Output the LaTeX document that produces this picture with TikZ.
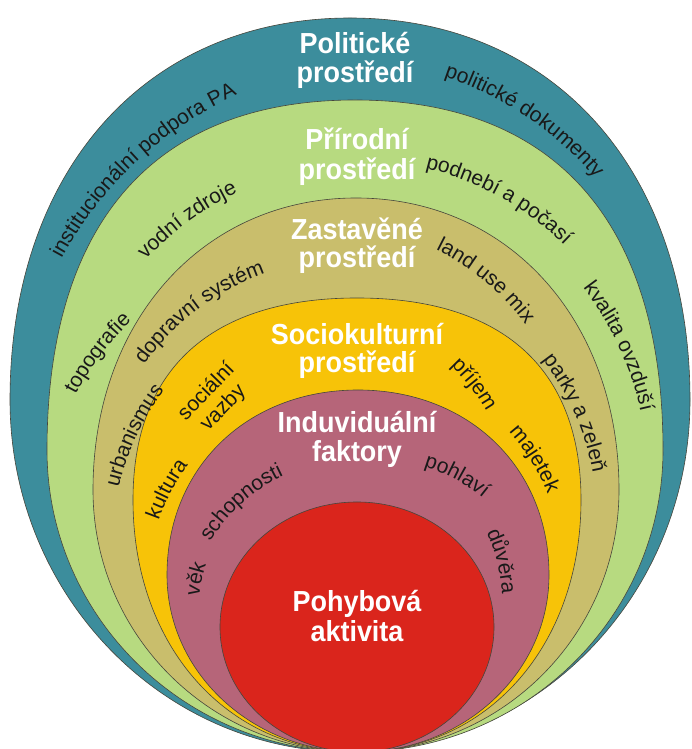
\documentclass[tikz,border=0pt]{standalone}
\usepackage{fontspec}
\setmainfont{Liberation Sans}
\newfontfamily\titlefamily[FakeStretch=0.93]{Liberation Sans}
\newfontfamily\lblfamily{Liberation Sans}
\usetikzlibrary{decorations.text,calc}
\definecolor{cteal}{RGB}{60,141,156}
\definecolor{cgreen}{RGB}{183,218,128}
\definecolor{colive}{RGB}{201,190,108}
\definecolor{cyellow}{RGB}{247,195,8}
\definecolor{cpink}{RGB}{182,101,121}
\definecolor{cred}{RGB}{218,37,28}
\definecolor{edgecol}{RGB}{70,70,60}
\newcommand\lbl{\lblfamily\fontsize{21}{21}\selectfont\color{black!90}}
\tikzset{
  layer/.style={draw=edgecol, line width=0.6pt},
  ttl/.style={text=white, font=\titlefamily\bfseries\fontsize{29}{29}\selectfont, anchor=base, inner sep=0pt}
}
% egg-shaped layer: color, cx, cy (pixels from top), rx, ry top, ry bottom, top factor, bottom factor
\newcommand\egg[8]{%
 \pgfmathsetmacro\eY{749-#3}%
 \pgfmathsetmacro\eT{\eY+#5}\pgfmathsetmacro\eB{\eY-#6}%
 \pgfmathsetmacro\eL{#2-#4}\pgfmathsetmacro\eR{#2+#4}%
 \pgfmathsetmacro\cu{\eY+#7*#5}\pgfmathsetmacro\cd{\eY-#8*#6}%
 \pgfmathsetmacro\ctl{#2-#7*#4}\pgfmathsetmacro\ctr{#2+#7*#4}%
 \pgfmathsetmacro\cbl{#2-#8*#4}\pgfmathsetmacro\cbr{#2+#8*#4}%
 \path[layer,fill=#1] (\eL,\eY) .. controls (\eL,\cu) and (\ctl,\eT) .. (#2,\eT)
   .. controls (\ctr,\eT) and (\eR,\cu) .. (\eR,\eY)
   .. controls (\eR,\cd) and (\cbr,\eB) .. (#2,\eB)
   .. controls (\cbl,\eB) and (\eL,\cd) .. cycle;}
% curved label: x, y (pixels from top, visual centre), tangent angle, radius, text
\newcommand\arclbl[5]{%
 \pgfmathsetmacro\Dl{14000/#4}%
 \path[decorate,decoration={text along path,text align=center,text={|\lbl|#5}}]
   ($(#1,749-#2)+(#3-90:#4+6)+(#3+90+\Dl:#4)$)
   arc[start angle=#3+90+\Dl, end angle=#3+90-\Dl, radius=#4];}
\begin{document}
\begin{tikzpicture}[x=1pt,y=1pt]
\useasboundingbox (0,0) rectangle (692,749);
\fill[white] (0,0) rectangle (692,749);
% layers
\egg{cteal}{350}{400}{340}{382}{352}{0.60}{0.5523}
\egg{cgreen}{355}{450}{308}{350}{302}{0.65}{0.5523}
\egg{colive}{356}{490}{263}{292}{262}{0.58}{0.5523}
\egg{cyellow}{357}{500}{224}{202}{252}{0.65}{0.58}
\egg{cpink}{358}{575}{191}{185}{177}{0.58}{0.5523}
\egg{cred}{357}{627}{137}{125}{125}{0.5523}{0.5523}
% titles
\node[ttl] (t1a) at (355,749-54) {Politické};
\node[ttl] (t1b) at (355,749-83) {prostředí};
\node[ttl] (t2a) at (357,749-150) {Přírodní};
\node[ttl] (t2b) at (357,749-180) {prostředí};
\node[ttl] (t3a) at (357,749-240) {Zastavěné};
\node[ttl] (t3b) at (357,749-268) {prostředí};
\node[ttl] (t4a) at (357,749-345) {Sociokulturní};
\node[ttl] (t4b) at (357,749-373) {prostředí};
\node[ttl] (t5a) at (357,749-433) {Induviduální};
\node[ttl] (t5b) at (357,749-462) {faktory};
\node[ttl] (t6a) at (357,749-612) {Pohybová};
\node[ttl] (t6b) at (357,749-642) {aktivita};
% labels
\arclbl{132}{158}{43}{380}{institucionální podpora PA}
\arclbl{530}{112}{-34}{340}{politické dokumenty}
\arclbl{185}{217}{36}{300}{vodní zdroje}
\arclbl{503}{192}{-29}{300}{podnebí a počasí}
\arclbl{96}{352}{53}{300}{topografie}
\arclbl{624}{344}{-65}{320}{kvalita ovzduší}
\arclbl{194}{305}{37}{250}{dopravní systém}
\arclbl{489}{277}{-40}{250}{land use mix}
\arclbl{131}{434}{65}{260}{urbanismus}
\arclbl{580}{411}{-66}{260}{parky a zeleň}
\arclbl{475}{384}{-52}{200}{příjem}
\arclbl{166}{489}{62}{210}{kultura}
\arclbl{536}{458}{-58}{210}{majetek}
\arclbl{238}{499}{42}{170}{schopnosti}
\arclbl{458}{474}{-28}{170}{pohlaví}
\arclbl{196}{579}{78}{170}{věk}
\arclbl{503}{561}{-76}{170}{důvěra}
\node[rotate=46, align=center, text=black!90, font=\lblfamily\fontsize{21}{23}\selectfont, inner sep=0pt] (soc) at (215,749-400) {sociální\\vazby};
\end{tikzpicture}
\end{document}
